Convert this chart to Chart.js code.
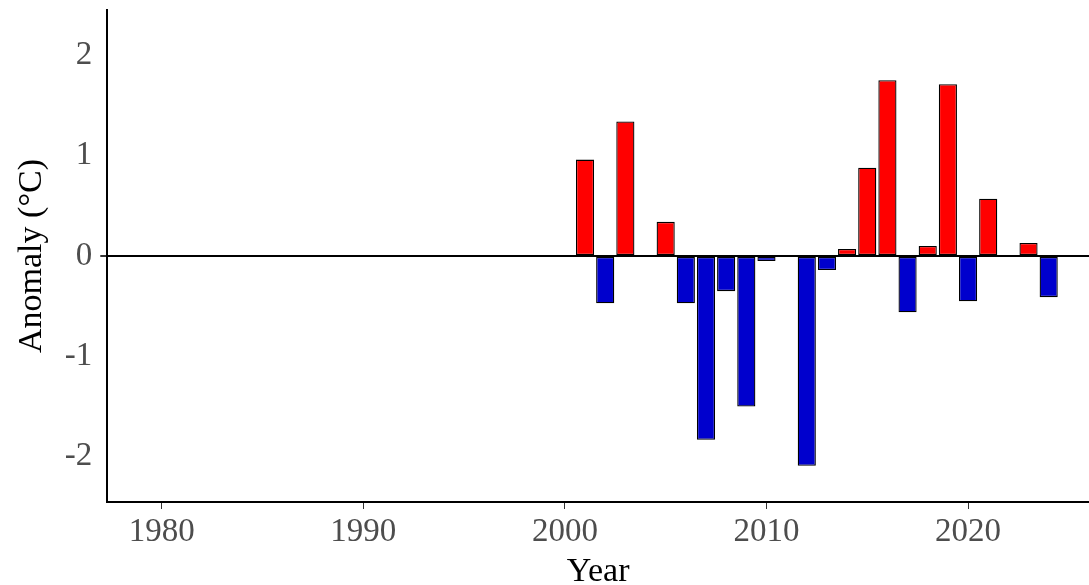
<!DOCTYPE html>
<html>
<head>
<meta charset="utf-8">
<script src="https://cdn.jsdelivr.net/npm/chart.js@4/dist/chart.umd.min.js"></script>
<style>
  html, body { margin: 0; padding: 0; background: #fff; }
  #wrap { width: 1089px; height: 585px; }
</style>
</head>
<body>
<div id="wrap"><canvas id="myChart" width="1089" height="585"></canvas></div>
<script>
const years = [2001, 2002, 2003, 2005, 2006, 2007, 2008, 2009, 2010, 2012, 2013,
               2014, 2015, 2016, 2017, 2018, 2019, 2020, 2021, 2023, 2024];
const anomalies = [0.96, -0.47, 1.34, 0.34, -0.47, -1.83, -0.35, -1.50, -0.05, -2.09, -0.14,
                   0.07, 0.88, 1.75, -0.56, 0.10, 1.71, -0.45, 0.57, 0.13, -0.41];
const xTicks = [1980, 1990, 2000, 2010, 2020];
const yTicks = [-2, -1, 0, 1, 2];

document.addEventListener('DOMContentLoaded', function() {
    const ctx = document.getElementById('myChart').getContext('2d');
    const serif = '"Liberation Serif", "Times New Roman", serif';

    const points = years.map((y, i) => ({ x: y, y: anomalies[i] }));
    const colors = anomalies.map(v => v >= 0 ? '#FF0000' : '#0000CD');

    new Chart(ctx, {
        type: 'bar',
        data: {
            datasets: [{
                data: points,
                backgroundColor: colors,
                borderColor: '#000',
                borderWidth: 1.3,
                borderSkipped: false,
                barPercentage: 0.9,
                categoryPercentage: 1.0
            }]
        },
        options: {
            responsive: false,
            animation: false,
            layout: { padding: { top: 10, right: 0, left: 12, bottom: 0 } },
            plugins: { legend: { display: false }, tooltip: { enabled: false } },
            scales: {
                x: {
                    type: 'linear',
                    offset: false,
                    min: 1977.3,
                    max: 2026,
                    afterBuildTicks: axis => { axis.ticks = xTicks.map(v => ({ value: v })); },
                    afterFit: axis => { axis.height = 83; axis.paddingLeft = 0; axis.paddingRight = 0; },
                    grid: { offset: false, drawOnChartArea: false, color: '#000', tickColor: '#333', tickLength: 7 },
                    border: { color: '#000', width: 2 },
                    ticks: {
                        color: '#4D4D4D',
                        font: { family: serif, size: 33 },
                        padding: 4,
                        maxRotation: 0,
                        callback: v => String(v)
                    },
                    title: {
                        display: true,
                        text: 'Year',
                        color: '#000',
                        font: { family: serif, size: 34 },
                        padding: { top: 0, bottom: -7 }
                    }
                },
                y: {
                    min: -2.45,
                    max: 2.45,
                    afterBuildTicks: axis => { axis.ticks = yTicks.map(v => ({ value: v })); },
                    afterFit: axis => { axis.paddingTop = 0; axis.paddingBottom = 0; },
                    grid: {
                        color: c => c.tick && c.tick.value === 0 ? '#000' : 'rgba(0,0,0,0)',
                        lineWidth: c => c.tick && c.tick.value === 0 ? 2 : 0,
                        tickColor: '#333',
                        tickLength: 7
                    },
                    border: { color: '#000', width: 2 },
                    ticks: {
                        color: '#4D4D4D',
                        font: { family: serif, size: 33 },
                        padding: 8
                    },
                    title: {
                        display: true,
                        text: 'Anomaly (°C)',
                        color: '#000',
                        font: { family: serif, size: 34 },
                        padding: { top: 0, bottom: 4 }
                    }
                }
            }
        }
    });
});
</script>
</body>
</html>
